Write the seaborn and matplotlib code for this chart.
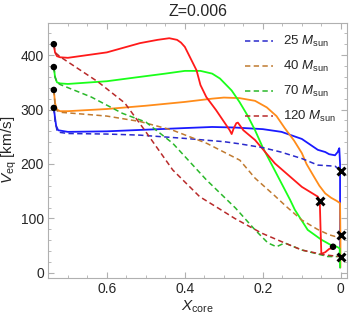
import matplotlib
matplotlib.use("Agg")
import matplotlib.pyplot as plt
import numpy as np
import pandas as pd
import seaborn as sns
from matplotlib.ticker import MultipleLocator, FuncFormatter

# solid curves (x_core, v_eq)
blue_solid_x = [0.736, 0.733, 0.730, 0.725, 0.70, 0.6, 0.5, 0.4, 0.33, 0.272, 0.2, 0.152, 0.1, 0.059, 0.04, 0.03, 0.015, 0.008, 0.004, 0.002, 0.002, 0.002]
blue_solid_y = [303, 285, 270, 262, 259, 260, 263, 266, 268, 267, 264, 259, 246, 226, 222, 218, 216, 222, 229, 200, 100, 10]

orange_solid_x = [0.736, 0.733, 0.728, 0.72, 0.7, 0.6, 0.5, 0.4, 0.33, 0.3, 0.26, 0.22, 0.19, 0.165, 0.144, 0.12, 0.1, 0.088, 0.07, 0.055, 0.04, 0.025, 0.01, 0.002, 0.001, 0.001]
orange_solid_y = [336, 312, 300, 297, 297, 301, 307, 314, 320, 322, 321, 316, 304, 288, 266, 243, 220, 200, 178, 160, 146, 138, 132, 128, 60, 10]

green_solid_x = [0.736, 0.733, 0.728, 0.72, 0.7, 0.6, 0.515, 0.45, 0.4, 0.36, 0.33, 0.31, 0.28, 0.26, 0.24, 0.22, 0.2, 0.17, 0.13, 0.118, 0.085, 0.05, 0.025, 0.01, 0.003, 0.002]
green_solid_y = [378, 360, 350, 348, 347, 352, 360, 366, 371, 371, 366, 357, 335, 314, 290, 262, 230, 189, 134, 116, 79, 61, 51, 48, 45, 10]

red_solid_x = [0.736, 0.733, 0.728, 0.72, 0.7, 0.6, 0.515, 0.47, 0.44, 0.42, 0.41, 0.40, 0.37, 0.36, 0.345, 0.32, 0.303, 0.285, 0.28, 0.275, 0.268, 0.264, 0.25, 0.22, 0.169, 0.10, 0.059, 0.054, 0.052, 0.05, 0.04, 0.03, 0.025]
red_solid_y = [420, 405, 398, 396, 395, 405, 422, 428, 431, 428, 423, 415, 372, 345, 323, 299, 281, 262, 255, 265, 275, 276, 262, 244, 201, 158, 140, 132, 80, 35, 38, 44, 45]

# dashed curves
blue_dash_x = [0.736, 0.733, 0.728, 0.72, 0.7, 0.6, 0.515, 0.4, 0.3, 0.259, 0.2, 0.154, 0.1, 0.059, 0.015, 0.0]
blue_dash_y = [303, 280, 262, 258, 256, 255, 253, 247, 241, 237, 230, 222, 210, 198, 196, 188]

orange_dash_x = [0.736, 0.733, 0.728, 0.72, 0.65, 0.6, 0.515, 0.431, 0.344, 0.259, 0.22, 0.17, 0.14, 0.10, 0.06, 0.03, 0.015, 0.0]
orange_dash_y = [336, 310, 298, 295, 291, 288, 278, 262, 238, 207, 174, 142, 122, 97, 80, 70, 67, 70]

green_dash_x = [0.736, 0.733, 0.728, 0.72, 0.64, 0.56, 0.50, 0.431, 0.345, 0.27, 0.22, 0.187, 0.165, 0.144, 0.10, 0.033, 0.0]
green_dash_y = [378, 360, 350, 346, 323, 293, 277, 238, 171, 119, 79, 55, 48, 55, 42, 30, 30]

red_dash_x = [0.736, 0.733, 0.72, 0.623, 0.554, 0.503, 0.431, 0.362, 0.31, 0.272, 0.203, 0.144, 0.10, 0.041, 0.0]
red_dash_y = [420, 405, 397, 351, 312, 262, 189, 140, 117, 100, 73, 55, 42, 33, 30]

dot_x = [0.736, 0.736, 0.736, 0.736, 0.02]
dot_y = [420, 378, 336, 303, 48]
cross_x = [0.0, 0.054, 0.0, 0.0]
cross_y = [188, 132, 70, 30]

labels = ["25", "40", "70", "120"]

sns.set_style("ticks")
plt.rcParams["font.family"] = ["Liberation Sans", "DejaVu Sans"]
plt.rcParams["mathtext.fontset"] = "custom"
plt.rcParams["mathtext.rm"] = "Liberation Sans"
plt.rcParams["mathtext.it"] = "Liberation Sans:italic"

fig = plt.figure(figsize=(3.49, 3.19), dpi=100)
ax = fig.add_axes([0.1375, 0.13, 0.857, 0.798])

solid = [(blue_solid_x, blue_solid_y, "#1a1aff"), (orange_solid_x, orange_solid_y, "#ff8c1a"),
         (green_solid_x, green_solid_y, "#1aff1a"), (red_solid_x, red_solid_y, "#ff1a1a")]
dashed = [(blue_dash_x, blue_dash_y, "#2a2acc"), (orange_dash_x, orange_dash_y, "#c07a30"),
          (green_dash_x, green_dash_y, "#2ab82a"), (red_dash_x, red_dash_y, "#b82a2a")]

for x, y, c in solid:
    sns.lineplot(x=x, y=y, sort=False, color=c, lw=1.3, ax=ax, estimator=None)
for (x, y, c), lab in zip(dashed, labels):
    sns.lineplot(x=x, y=y, sort=False, color=c, lw=1.1, ax=ax, estimator=None,
                 label=lab + r" $M_{\rm sun}$")
for line in ax.lines[4:8]:
    line.set_linestyle((0, (3.5, 2.2)))

sns.scatterplot(x=dot_x, y=dot_y, color="black", s=22, ax=ax, zorder=5, edgecolor="none")
sns.scatterplot(x=cross_x, y=cross_y, color="black", marker="x", s=32, ax=ax, zorder=5, linewidth=2.2)

ax.set_xlim(0.751, -0.016)
ax.set_ylim(-8.5, 459)
ax.xaxis.set_major_locator(MultipleLocator(0.2))
ax.xaxis.set_minor_locator(MultipleLocator(0.05))
ax.yaxis.set_major_locator(MultipleLocator(100))
ax.yaxis.set_minor_locator(MultipleLocator(20))
ax.xaxis.set_major_formatter(FuncFormatter(lambda v, p: "0" if abs(v) < 1e-9 else f"{v:.1f}"))
ax.tick_params(which="both", direction="in", top=True, right=True, color="#b0b0b0", labelsize=10, pad=3)
ax.tick_params(which="major", length=4)
ax.tick_params(which="minor", length=2.5)
for s in ax.spines.values():
    s.set_color("#b0b0b0")

ax.set_xlabel(r"$X_{\rm core}$", fontsize=11, labelpad=2)
ax.set_ylabel(r"$V_{\rm eq}$ [km/s]", fontsize=11, labelpad=1)
ax.set_title("Z=0.006", fontsize=11.5, pad=5)

leg = ax.legend(loc="upper right", frameon=False, fontsize=9.5, handlelength=2.1,
                labelspacing=0.75, borderaxespad=0.45, handletextpad=0.75)

fig.savefig("out.png", dpi=100)
